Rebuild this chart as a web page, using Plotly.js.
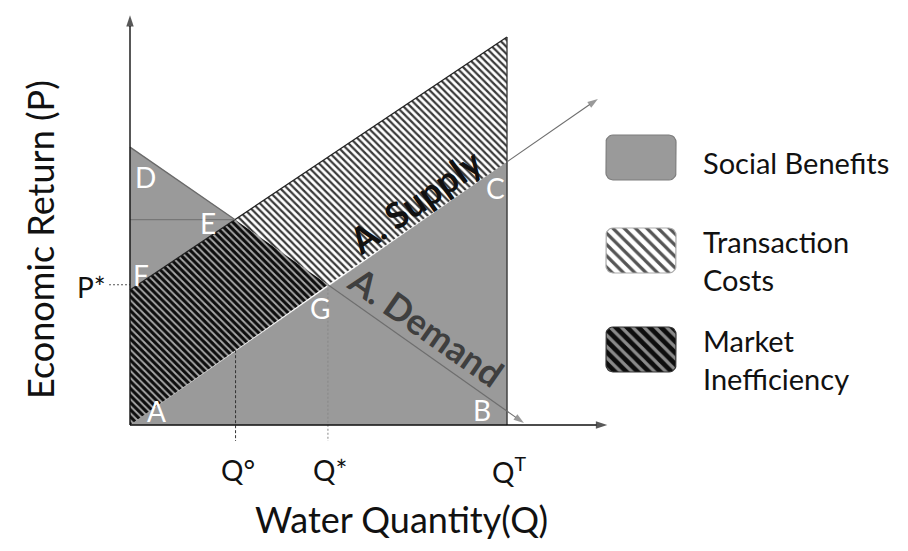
<!DOCTYPE html>
<html><head><meta charset="utf-8">
<script src="https://cdn.plot.ly/plotly-3.0.1.min.js"></script>
<style>html,body{margin:0;padding:0;background:#fff;} #chart{width:908px;height:551px;}</style>
</head><body><div id="chart"></div>
<script>
// ---------------- data (arbitrary Q / P units) ----------------
const qTickLabels = ['Q°', 'Q*', 'Q<sup>T</sup>'];
const qTickValues = [2.8, 5.25, 10];
const pTickLabels = ['P*'];
const pTickValues = [3.72];
const pointNames = ['A', 'B', 'C', 'D', 'E', 'F', 'G', 'T'];
const pointQ     = [0,   10,  10,  0,   2.78, 0,   5.25, 10];
const pointP     = [0,   0,   6.98, 7.37, 5.45, 3.58, 3.72, 10.29];
const supplyTip  = [12.41, 8.65];
const demandTip  = [10.45, 0.05];
const axisTipQ   = 12.66;
const axisTipP   = 10.87;
const curveLabels = ['A. Supply', 'A. Demand'];
const legendNames = ['Social Benefits', 'Transaction<br>Costs', 'Market<br>Inefficiency'];
const axisTitles  = ['Water Quantity(Q)', 'Economic Return (P)'];

// ---------------- layout helpers (pixel -> data, for placement only) ----------------
const K = 37.7, OX = 130, OY = 425, W = 908, H = 551;
const X = px => (px - OX) / K;
const Y = py => (OY - py) / K;
const FONT = 'Lato, Carlito, Calibri, "Open Sans", sans-serif';
const P = name => { const i = pointNames.indexOf(name); return [pointQ[i], pointP[i]]; };
function poly(names) {
  const pts = names.map(P); pts.push(pts[0]);
  return { x: pts.map(p => p[0]), y: pts.map(p => p[1]) };
}
const GRAY = '#9a9a9a';
const patTC = { shape: '\\', bgcolor: '#ffffff', fgcolor: '#3a3a3a', size: 5, solidity: 0.45 };
const patMI = { shape: '\\', bgcolor: '#0d0d0d', fgcolor: '#a8a8a8', size: 5, solidity: 0.38 };

const traces = [];
// Social benefits: triangle D-E-F and triangle A-C-B
[['D', 'E', 'F'], ['A', 'C', 'B']].forEach(n => {
  const p = poly(n);
  traces.push({ type: 'scatter', mode: 'lines', x: p.x, y: p.y, fill: 'toself',
    fillcolor: GRAY, line: { color: GRAY, width: 0.5 }, hoverinfo: 'skip' });
});
// Transaction costs: E-T-C-G
(() => { const p = poly(['E', 'T', 'C', 'G']);
  traces.push({ type: 'scatter', mode: 'lines', x: p.x, y: p.y, fill: 'toself',
    fillcolor: '#ffffff', fillpattern: patTC, line: { width: 0 }, hoverinfo: 'skip' }); })();
// Market inefficiency: F-E-G-A
(() => { const p = poly(['F', 'E', 'G', 'A']);
  traces.push({ type: 'scatter', mode: 'lines', x: p.x, y: p.y, fill: 'toself',
    fillcolor: '#0d0d0d', fillpattern: patMI, line: { width: 0 }, hoverinfo: 'skip' }); })();
// boundary lines
function seg(names, color, width, dash) {
  const pts = names.map(P);
  traces.push({ type: 'scatter', mode: 'lines', x: pts.map(p => p[0]), y: pts.map(p => p[1]),
    line: { color: color, width: width, dash: dash || 'solid' }, hoverinfo: 'skip' });
}
seg(['D', 'E'], '#6a6a6a', 1.3);
seg(['F', 'T'], '#222222', 1.3);
seg(['T', 'B'], '#333333', 1.3);
// E horizontal guide
traces.push({ type: 'scatter', mode: 'lines', x: [0, P('E')[0]], y: [P('E')[1], P('E')[1]],
  line: { color: '#777777', width: 1.2 }, hoverinfo: 'skip' });
// Q°, Q*, P* guides
(() => {
  const A = P('A'), G = P('G');
  const q = qTickValues[0];
  const ys = A[1] + (G[1] - A[1]) * (q - A[0]) / (G[0] - A[0]);
  traces.push({ type: 'scatter', mode: 'lines', x: [q, q], y: [ys, Y(441)],
    line: { color: '#333', width: 1, dash: '3px,2px' }, hoverinfo: 'skip' });
  traces.push({ type: 'scatter', mode: 'lines', x: [qTickValues[1], qTickValues[1]], y: [P('G')[1], Y(441)],
    line: { color: '#888', width: 1, dash: '2px,2px' }, hoverinfo: 'skip' });
  traces.push({ type: 'scatter', mode: 'lines', x: [X(109), 0], y: [pTickValues[0], pTickValues[0]],
    line: { color: '#555', width: 1, dash: '2px,2px' }, hoverinfo: 'skip' });
})();

// arrows (line + arrow marker at the tip)
function arrow(x0, y0, x1, y1, color, width, size) {
  traces.push({ type: 'scatter', mode: 'lines+markers', x: [x0, x1], y: [y0, y1],
    line: { color: color, width: width },
    marker: { symbol: ['circle', 'arrow'], size: [0, size], angleref: 'previous', color: color, line: { width: 0 } },
    hoverinfo: 'skip' });
}
arrow(P('C')[0], P('C')[1], supplyTip[0], supplyTip[1], '#6e6e6e', 1.1, 11);
arrow(P('G')[0], P('G')[1], demandTip[0], demandTip[1], '#6e6e6e', 1.1, 11);
arrow(0, 0, axisTipQ, 0, '#111', 1.4, 12);
arrow(0, 0, 0, axisTipP, '#111', 1.4, 12);

// legend swatches (rounded rectangles, pixel geometry)
function roundRect(x0, y0, x1, y1, r) {
  const xs = [], ys = [];
  const corners = [[x1 - r, y0 + r, -90], [x1 - r, y1 - r, 0], [x0 + r, y1 - r, 90], [x0 + r, y0 + r, 180]];
  corners.forEach(c => {
    for (let k = 0; k <= 6; k++) {
      const a = (c[2] + 15 * k) * Math.PI / 180;
      xs.push(X(c[0] + r * Math.cos(a))); ys.push(Y(c[1] + r * Math.sin(a)));
    }
  });
  xs.push(xs[0]); ys.push(ys[0]);
  return { x: xs, y: ys };
}
const legendTop = [135, 228, 327];
const legendStyles = [
  { fillcolor: GRAY, line: { color: '#7d7d7d', width: 1.2 } },
  { fillcolor: '#fff', fillpattern: Object.assign({}, patTC, { size: 8, solidity: 0.4, fgcolor: '#555' }), line: { color: '#aaaaaa', width: 1.2 } },
  { fillcolor: '#0d0d0d', fillpattern: Object.assign({}, patMI, { size: 8, solidity: 0.4, fgcolor: '#8a8a8a' }), line: { color: '#333', width: 1.2 } }
];
legendNames.forEach((n, i) => {
  const rr = roundRect(606, legendTop[i], 676, legendTop[i] + 45, 7);
  traces.push(Object.assign({ type: 'scatter', mode: 'lines', x: rr.x, y: rr.y, fill: 'toself', hoverinfo: 'skip' }, legendStyles[i]));
});

// ---------------- annotations ----------------
const ann = [];
const txt = (x, y, text, size, extra) => ann.push(Object.assign({ x: x, y: y, xref: 'x', yref: 'y', text: text,
  showarrow: false, font: { family: FONT, size: size, color: '#111' } }, extra || {}));
// point labels
const labelShift = { A: [26, 14], B: [-25, 15], C: [-12, -26], D: [15, -30], E: [-27, -3], F: [11, 15], G: [-8, -23] };
pointNames.forEach((n, i) => {
  if (!labelShift[n]) return;
  txt(pointQ[i], pointP[i], n, 28, { xshift: labelShift[n][0], yshift: labelShift[n][1],
    font: { family: FONT, size: 28, color: '#ffffff' } });
});
// tick labels
qTickValues.forEach((v, i) => txt(v, Y(470), qTickLabels[i], 28, { xshift: 2 }));
pTickValues.forEach((v, i) => txt(X(108), v, pTickLabels[i], 28, { xanchor: 'right', yshift: -2 }));
// curve labels
txt(X(415), Y(201), '<b>' + curveLabels[0] + '</b>', 36, { textangle: -35 });
txt(X(426), Y(326), '<b>' + curveLabels[1] + '</b>', 36, { textangle: 35, font: { family: FONT, size: 36, color: '#3f3f3f' } });
// axis titles
txt(X(401), Y(519), axisTitles[0], 36);
txt(X(40), Y(240), axisTitles[1], 36, { textangle: -90 });
// legend text (multi-line entries drawn as one text block)
const legendTextY = [162, 260, 359];
legendNames.forEach((n, i) => {
  txt(X(701), Y(legendTextY[i]), n, 29, { xanchor: 'left', align: 'left' });
});

const layout = {
  width: W, height: H, margin: { l: 0, r: 0, t: 0, b: 0 }, showlegend: false,
  paper_bgcolor: '#fff', plot_bgcolor: '#fff',
  xaxis: { visible: false, range: [X(0), X(W)], fixedrange: true },
  yaxis: { visible: false, range: [Y(H), Y(0)], fixedrange: true },
  annotations: ann
};
Plotly.newPlot('chart', traces, layout, { staticPlot: true, displayModeBar: false });
</script></body></html>
